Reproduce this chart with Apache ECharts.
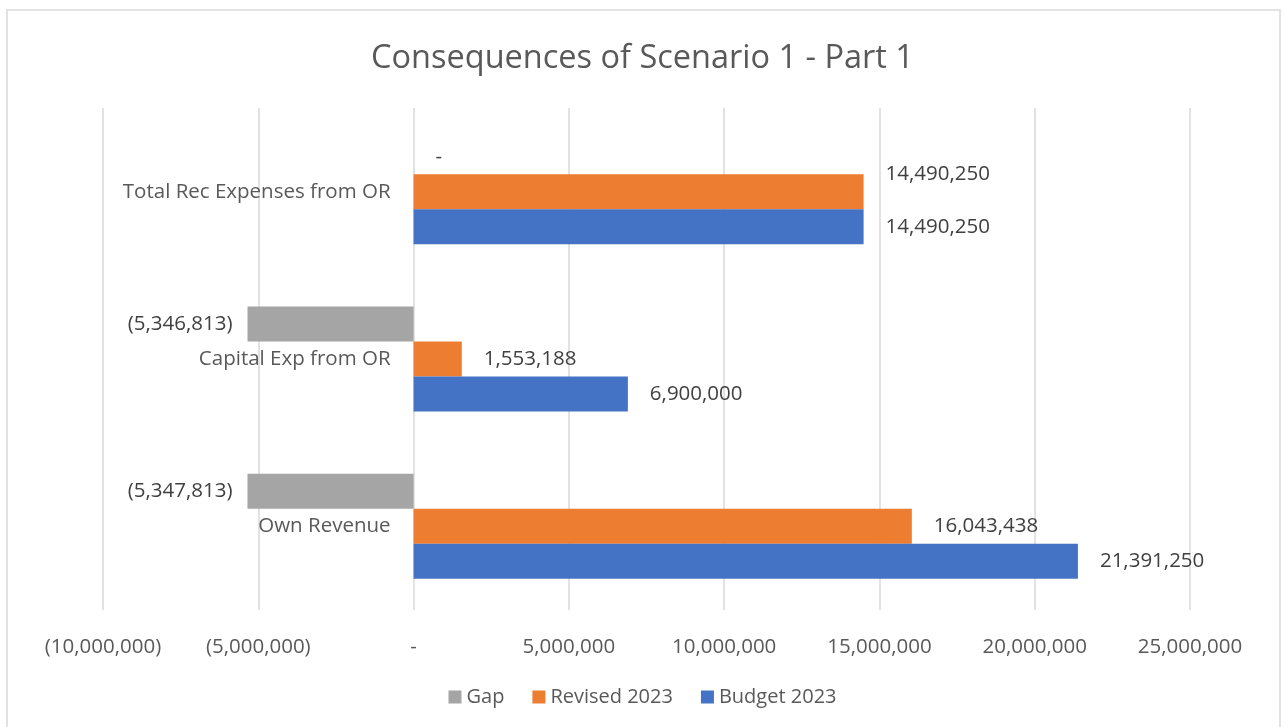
<!DOCTYPE html>
<html>
<head>
<meta charset="utf-8">
<script src="https://cdn.jsdelivr.net/npm/echarts@6/dist/echarts.min.js"></script>
<style>
html,body{margin:0;padding:0;background:#fff;}
#chart{width:1285px;height:727px;}
</style>
</head>
<body>
<div id="chart"></div>
<script>
const categories = ['Own Revenue', 'Capital Exp from OR', 'Total Rec Expenses from OR'];
const gap = [-5347813, -5346813, 0];
const revised2023 = [16043438, 1553188, 14490250];
const budget2023 = [21391250, 6900000, 14490250];
const xTicks = { min: -10000000, max: 25000000, interval: 5000000 };

function fmt(v) {
  if (v === 0) return '-';
  const s = Math.abs(v).toLocaleString('en-US');
  return v < 0 ? '(' + s + ')' : s;
}

const FONT = '"Open Sans", sans-serif';
const GRID = { left: 103, right: 95, top: 108, bottom: 117 };
const gridWidth = 1285 - GRID.left - GRID.right;
const zeroOffset = (0 - xTicks.min) / (xTicks.max - xTicks.min) * gridWidth;

const labelBase = { show: true, color: '#404040', fontSize: 20.5, fontFamily: FONT,
  formatter: p => fmt(p.value) };

function items(arr) {
  return arr.map(v => ({ value: v, label: { position: v < 0 ? 'left' : 'right', distance: v < 0 ? 15 : 22 } }));
}

const chart = echarts.init(document.getElementById('chart'), null, { renderer: 'canvas' });
const revisedItems = items(revised2023);
revisedItems[2].label.offset = [0, -18];

chart.setOption({
  animation: false,
  backgroundColor: '#fff',
  title: {
    text: 'Consequences of Scenario 1 - Part 1',
    left: 'center', top: 37,
    textStyle: { color: '#595959', fontSize: 32.5, fontWeight: 'normal', fontFamily: FONT }
  },
  graphic: [{
    type: 'rect', shape: { x: 7, y: 10, width: 1273, height: 740 },
    style: { fill: 'none', stroke: '#d9d9d9', lineWidth: 1.5 }, silent: true
  }],
  legend: {
    data: ['Gap', 'Revised 2023', 'Budget 2023'],
    bottom: 15, left: 'center',
    icon: 'rect', itemWidth: 13, itemHeight: 13, itemGap: 28,
    textStyle: { color: '#595959', fontSize: 20, fontFamily: FONT }
  },
  grid: { left: GRID.left, right: GRID.right, top: GRID.top, bottom: GRID.bottom,
    containLabel: false, outerBoundsMode: 'none' },
  xAxis: {
    type: 'value', min: xTicks.min, max: xTicks.max, interval: xTicks.interval,
    axisLine: { show: false }, axisTick: { show: false },
    splitLine: { lineStyle: { color: '#d9d9d9', width: 1.5 } },
    axisLabel: { color: '#595959', fontSize: 20.5, fontFamily: FONT, margin: 27, formatter: v => fmt(v) }
  },
  yAxis: {
    type: 'category', data: categories,
    position: 'left', offset: -zeroOffset,
    axisLine: { show: false, onZero: false },
    axisTick: { show: false },
    axisLabel: { color: '#595959', fontSize: 20.5, fontFamily: FONT, margin: 23 }
  },
  series: [
    { name: 'Gap', type: 'bar', data: items(gap), itemStyle: { color: '#A5A5A5' },
      barWidth: 35, barGap: '0%', barCategoryGap: '37%', label: labelBase },
    { name: 'Revised 2023', type: 'bar', data: revisedItems, itemStyle: { color: '#ED7D31' },
      barWidth: 35, barGap: '0%', label: labelBase },
    { name: 'Budget 2023', type: 'bar', data: items(budget2023), itemStyle: { color: '#4472C4' },
      barWidth: 35, barGap: '0%', label: labelBase }
  ]
});
</script>
</body>
</html>
